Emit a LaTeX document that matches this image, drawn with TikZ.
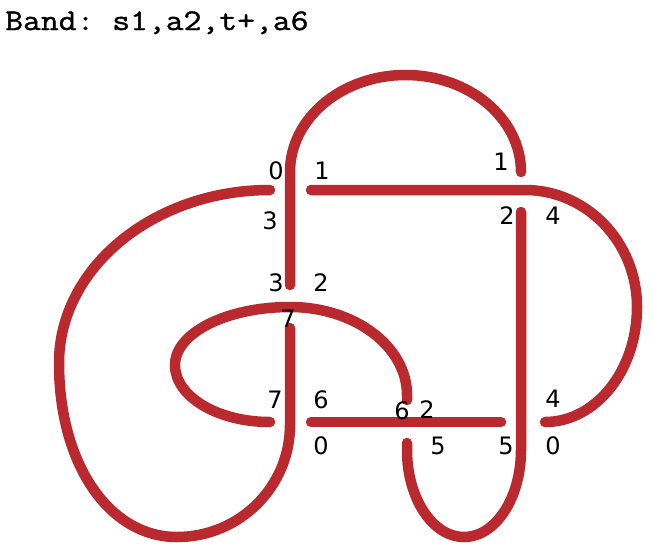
\documentclass[tikz,border=0pt]{standalone}
\usepackage{fontspec}
\newfontfamily\bandfont[FakeStretch=1.155,FakeBold=1.2]{Latin Modern Mono}
\newfontfamily\numfont{DejaVu Sans}
\definecolor{knotred}{RGB}{185,41,45}
\frenchspacing

\begin{document}
\begin{tikzpicture}[x=1pt,y=-1pt,
    strand/.style={draw=knotred,line width=10.5pt,line cap=round},
    lbl/.style={font=\numfont\fontsize{24}{24}\selectfont,inner sep=0pt}]
    \useasboundingbox (0,0) rectangle (652,554);

    \draw (5,30) node[anchor=base west,inner sep=0pt,font=\bandfont\fontsize{30}{30}\selectfont] (title) {Band: s1,a2,t+,a6};

    \draw[strand] (311,190) -- (525,190) .. controls (586.9,190) and (637,242.4) .. (637,307)
        .. controls (637,370.5) and (595.8,422) .. (545,422);

    \draw[strand] (290,285) -- (290,172) .. controls (290,118.4) and (341.7,75) .. (405.5,75)
        .. controls (469.3,75) and (521,118.4) .. (521,172);

    \draw[strand] (521,212) -- (521,450) .. controls (521,498) and (495.5,537) .. (464,537)
        .. controls (432.5,537) and (407,498) .. (407,450) -- (407,443);

    \draw[strand] (270,422) .. controls (217.5,422) and (175,396.5) .. (175,365)
        .. controls (175,333) and (226.5,307) .. (290,307)
        .. controls (354.6,307) and (407,346.4) .. (407,395) -- (407,400);

    \draw[strand] (270,190) .. controls (153.5,190) and (59,268) .. (59,363)
        .. controls (59,464) and (109,537) .. (177,537)
        .. controls (239.4,537) and (290,486.9) .. (290,425) -- (290,328);

    \draw[strand] (311,422) -- (501,422);

    \draw (276,171) node[lbl] (n0a) {0};
    \draw (322,171) node[lbl] (n1a) {1};
    \draw (270,221) node[lbl] (n3a) {3};
    \draw (501,162) node[lbl] (n1b) {1};
    \draw (507,216) node[lbl] (n2a) {2};
    \draw (553,216) node[lbl] (n4a) {4};

    \draw (276,283) node[lbl] (n3b) {3};
    \draw (321,283) node[lbl] (n2b) {2};
    \draw (288,319) node[lbl] (n7a) {7};

    \draw (275,400) node[lbl] (n7b) {7};
    \draw (321,400) node[lbl] (n6a) {6};
    \draw (321,446) node[lbl] (n0b) {0};
    \draw (402,411) node[lbl] (n6b) {6};
    \draw (427,410) node[lbl] (n2c) {2};
    \draw (438,446) node[lbl] (n5a) {5};
    \draw (506,446) node[lbl] (n5b) {5};
    \draw (553,399) node[lbl] (n4b) {4};
    \draw (553,446) node[lbl] (n0c) {0};
\end{tikzpicture}
\end{document}
